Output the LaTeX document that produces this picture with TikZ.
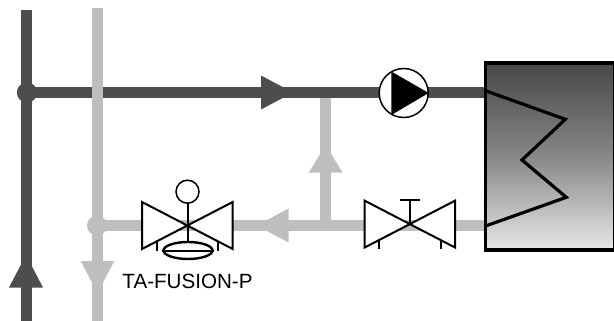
\documentclass[tikz,border=0pt]{standalone}
\usepackage{fontspec}
\usetikzlibrary{shapes.geometric}
\setmainfont{Liberation Sans}
\definecolor{darkpipe}{HTML}{4D4D4F}
\definecolor{lightpipe}{HTML}{BCBEC0}
\tikzset{
  darkline/.style={draw=darkpipe,line width=11pt},
  lightline/.style={draw=lightpipe,line width=11pt},
  symline/.style={draw=black,line width=2pt,line join=miter},
  dot/.style={circle,inner sep=0pt,outer sep=0pt,minimum size=20pt},
  pumpbody/.style={circle,draw=black,fill=white,line width=1.5pt,inner sep=0pt,outer sep=0pt,minimum size=49pt},
  hxbox/.style={rectangle,draw=black,line width=3.6pt,inner sep=0pt,outer sep=0pt,
    minimum width=129pt,minimum height=187.5pt,
    top color=black!72,bottom color=black!9,middle color=black!47},
  coil/.style={draw=black,line width=3.2pt,line join=miter},
}
\begin{document}
\begin{tikzpicture}[x=1pt,y=-1pt]
\useasboundingbox (0,0) rectangle (614,321);
% anchors
\coordinate (darktop) at (26,10);
\coordinate (darkbot) at (26,321);
\coordinate (lighttop) at (97.5,8);
\coordinate (lightbot) at (97.5,321);
\coordinate (tee) at (325.7,92.5);
\coordinate (teelow) at (325.7,225.5);
\coordinate (hxin) at (486,92.5);
\coordinate (hxout) at (486,225.5);
\coordinate (valveA) at (187.5,225.7);
\coordinate (valveB) at (410,224.5);
\node[dot,fill=darkpipe] (jdark) at (27,92.5) {};
\node[dot,fill=lightpipe] (jlight) at (97,225.5) {};
% pipes
\draw[lightline] (tee) -- (teelow);
\draw[darkline] (darktop) -- (darkbot);
\draw[darkline] (jdark.center) -- (hxin);
\draw[lightline] (lighttop) -- (lightbot);
\draw[lightline] (jlight.center) -- (hxout);
\node[dot,fill=darkpipe] at (jdark) {};
% flow arrows
\fill[darkpipe] (261,75.5) -- (293,92.5) -- (261,109.5) -- cycle;
\fill[darkpipe] (9,287.5) -- (26,255) -- (43,287.5) -- cycle;
\fill[lightpipe] (80.7,261) -- (97.5,293) -- (114.3,261) -- cycle;
\fill[lightpipe] (288.7,208.5) -- (256.5,225.5) -- (288.7,242.5) -- cycle;
\fill[lightpipe] (308.7,172.7) -- (325.7,145) -- (342.7,172.7) -- cycle;
% pump
\node[pumpbody] (pump) at (403.7,93) {};
\fill[black] (391.3,71.5) -- (428.7,93) -- (391.3,115) -- cycle;
% exchanger
\node[hxbox] (hx) at (550,156.5) {};
\draw[coil] (hx.west |- 0,90.7) -- (565.3,119.3) -- (522,160) -- (566.3,197.3) -- (hx.west |- 0,226);
% valve with sensor
\draw[symline,fill=white] (142,202) -- (232.7,249) -- (232.7,202) -- (142,249) -- cycle;
\draw[symline] (156.7,242) -- (156.7,250.5);
\draw[symline] (218.3,242) -- (218.3,250.5);
\draw[symline] (valveA) -- (187.5,203);
\draw[symline] (valveA) -- (187.5,242);
\node[circle,draw=black,fill=white,line width=1.5pt,inner sep=0pt,minimum size=23pt] (sensor) at (187.5,191.7) {};
\node[ellipse,draw=black,fill=white,line width=2.4pt,inner sep=0pt,minimum width=49pt,minimum height=17pt] (bulb) at (188,250.5) {};
\draw[line width=2pt] (bulb.west) -- (bulb.east);
% hand valve
\draw[symline,fill=white] (364.7,200.7) -- (455,247.5) -- (455,200.7) -- (364.7,247.5) -- cycle;
\draw[symline] (378.7,241) -- (378.7,249);
\draw[symline] (441,241) -- (441,249);
\draw[symline] (valveB) -- (410,199.7);
\draw[symline] (400,199.7) -- (420,199.7);
% label
\node[font=\fontsize{20.6}{24}\selectfont,text=black,inner sep=0pt] (lbl) at (187.5,281.7) {TA-FUSION-P};
\end{tikzpicture}
\end{document}
